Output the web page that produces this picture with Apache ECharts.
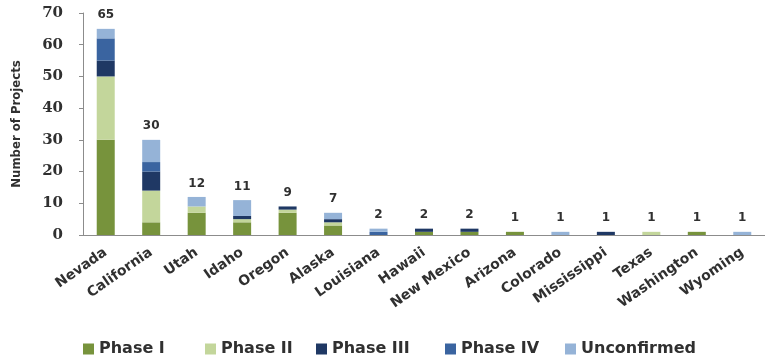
<!DOCTYPE html>
<html>
<head>
<meta charset="utf-8">
<script src="https://cdn.jsdelivr.net/npm/echarts@6/dist/echarts.min.js"></script>
<style>
  html, body { margin: 0; padding: 0; background: #ffffff; }
  #chart { width: 765px; height: 356px; }
</style>
</head>
<body>
<div id="chart"></div>
<script>
// States, ordered by total number of projects
const states = ['Nevada', 'California', 'Utah', 'Idaho', 'Oregon', 'Alaska', 'Louisiana',
  'Hawaii', 'New Mexico', 'Arizona', 'Colorado', 'Mississippi', 'Texas', 'Washington', 'Wyoming'];

// Project counts per development phase
const phaseI       = [30, 4, 7, 4, 7, 3, 0, 1, 1, 1, 0, 0, 0, 1, 0];
const phaseII      = [20, 10, 2, 1, 1, 1, 0, 0, 0, 0, 0, 0, 1, 0, 0];
const phaseIII     = [5, 6, 0, 1, 1, 1, 0, 1, 1, 0, 0, 1, 0, 0, 0];
const phaseIV      = [7, 3, 0, 0, 0, 0, 1, 0, 0, 0, 0, 0, 0, 0, 0];
const unconfirmed  = [3, 7, 3, 5, 0, 2, 1, 0, 0, 0, 1, 0, 0, 0, 1];

const phaseNames = ['Phase I', 'Phase II', 'Phase III', 'Phase IV', 'Unconfirmed'];

const yTicks = { min: 0, max: 70, interval: 10 };

// Stack totals shown above each bar
const totals = states.map((_, i) =>
  phaseI[i] + phaseII[i] + phaseIII[i] + phaseIV[i] + unconfirmed[i]);

const chart = echarts.init(document.getElementById('chart'), null, { renderer: 'canvas' });

const sansFont = 'DejaVu Sans';
const textColor = '#303030';
const phaseColors = ['#77933c', '#c3d69b', '#1f3864', '#3a64a0', '#95b3d7'];

// One legend entry per phase, each placed on its own left offset
const legendLeft = [78, 200, 311, 440, 560];
const legends = phaseNames.map((name, i) => ({
  top: 336,
  left: legendLeft[i],
  itemWidth: 11,
  itemHeight: 11,
  itemGap: 0,
  icon: 'rect',
  textStyle: { fontFamily: sansFont, fontWeight: 'bold', fontSize: 16, color: textColor },
  data: [name]
}));

function stackSeries(name, data, color) {
  return {
    name: name,
    type: 'bar',
    stack: 'projects',
    data: data,
    barWidth: 18,
    itemStyle: { color: color },
    emphasis: { disabled: true }
  };
}

const dataSeries = [phaseI, phaseII, phaseIII, phaseIV, unconfirmed]
  .map((d, i) => stackSeries(phaseNames[i], d, phaseColors[i]));

chart.setOption({
  animation: false,
  backgroundColor: '#ffffff',
  grid: { left: 83, right: -5, top: 13, bottom: 121, containLabel: false },
  legend: legends,
  xAxis: {
    type: 'category',
    data: states,
    axisLine: { lineStyle: { color: '#8c8c8c', width: 1 } },
    axisTick: { show: false },
    axisLabel: {
      rotate: 35,
      margin: 16,
      interval: 0,
      fontFamily: sansFont,
      fontWeight: 'bold',
      fontSize: 14,
      color: textColor
    }
  },
  yAxis: {
    type: 'value',
    min: yTicks.min,
    max: yTicks.max,
    interval: yTicks.interval,
    name: 'Number of Projects',
    nameLocation: 'middle',
    nameGap: 60,
    nameRotate: 90,
    nameTextStyle: { fontFamily: 'DejaVu Sans Condensed', fontWeight: 'bold', fontSize: 13, color: textColor },
    splitLine: { show: false },
    axisLine: { show: true, lineStyle: { color: '#8c8c8c' } },
    axisTick: { show: true, length: 4, lineStyle: { color: '#8c8c8c' } },
    axisLabel: {
      margin: 20,
      fontFamily: 'DejaVu Serif',
      fontWeight: 'bold',
      fontSize: 15,
      color: textColor
    }
  },
  series: dataSeries.concat([
    {
      name: 'Total',
      type: 'line',
      data: totals,
      symbol: 'circle',
      symbolSize: 1,
      showSymbol: true,
      lineStyle: { opacity: 0 },
      itemStyle: { color: 'rgba(0,0,0,0)' },
      silent: true,
      z: 5,
      label: {
        show: true,
        position: 'top',
        distance: 7,
        fontFamily: sansFont,
        fontWeight: 'bold',
        fontSize: 12,
        color: textColor
      }
    }
  ])
});
</script>
</body>
</html>
